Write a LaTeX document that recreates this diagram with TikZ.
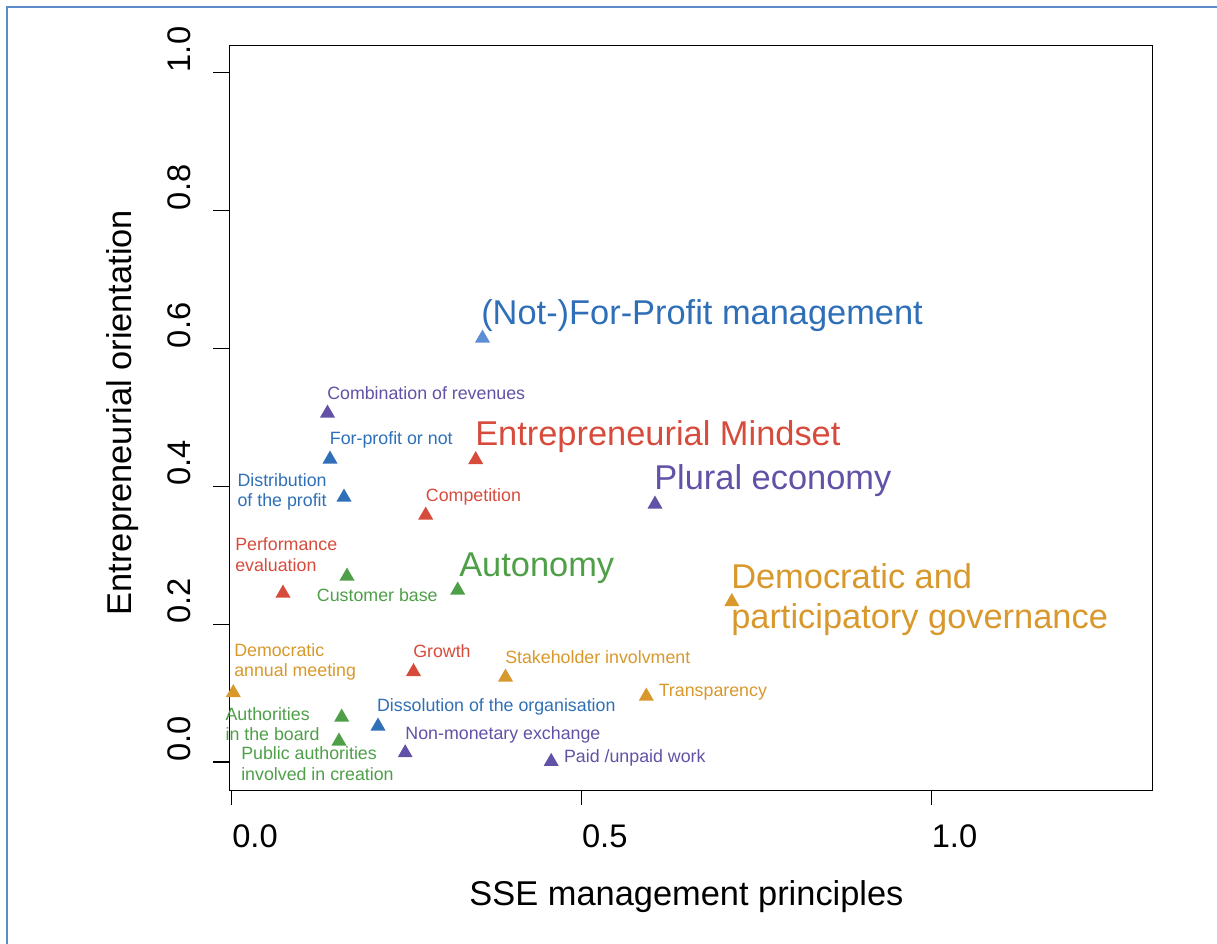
\documentclass[tikz,border=0pt]{standalone}
\usepackage{fontspec}
\setmainfont{Liberation Sans}
\usetikzlibrary{shapes.geometric}
\definecolor{frameblue}{HTML}{5B8BC8}
\definecolor{cblue}{HTML}{2F6FB7}
\definecolor{clblue}{HTML}{5B8ED6}
\definecolor{cred}{HTML}{D64B3C}
\definecolor{cpurp}{HTML}{6251A6}
\definecolor{cgreen}{HTML}{4E9F48}
\definecolor{corange}{HTML}{D8982B}
\begin{document}
\begin{tikzpicture}[x=0.75pt,y=-0.75pt,
  tri/.style={regular polygon, regular polygon sides=3, fill=#1, draw=none, inner sep=0pt, minimum size=13pt},
  small/.style={anchor=base west, inner sep=0pt, text=#1, font=\fontsize{13.35}{16}\selectfont},
  big/.style={anchor=base west, inner sep=0pt, text=#1, font=\fontsize{25.8}{30}\selectfont},
  ticklab/.style={inner sep=0pt, font=\fontsize{24.5}{28}\selectfont},
  axtitle/.style={inner sep=0pt, anchor=base, font=\fontsize{25.8}{30}\selectfont},
  tickline/.style={line width=0.9pt}]
\useasboundingbox (0,0) rectangle (1217,943);
% outer frame
\draw[frameblue, line width=2pt] (7,950) -- (7,7) -- (1225,7);
% plot box
\draw[line width=1pt] (229.6,45.7) rectangle (1152.5,790.5);
% x ticks
\foreach \xv/\lab in {231.7/0.0, 581.5/0.5, 931.2/1.0}{
  \draw[tickline] (\xv,790.5) -- (\xv,805);
  \node[ticklab, anchor=west] (xt-\lab) at (\xv+0.3,836) {\lab};
}
% y ticks
\foreach \yv/\lab in {762/0.0, 624.1/0.2, 486.2/0.4, 348.3/0.6, 210.4/0.8, 72.5/1.0}{
  \draw[tickline] (213,\yv) -- (229.6,\yv);
  \node[ticklab, anchor=west, rotate=90] (yt-\lab) at (179,\yv) {\lab};
}
% axis titles
\node[axtitle] (xtitle) at (686.5,905.7) {SSE management principles};
\node[axtitle, rotate=90] (ytitle) at (131.7,412.5) {Entrepreneurial orientation};

% triangles
\node[tri=cpurp]   (t-comb)    at (327.5,413.2) {};
\node[tri=cblue]   (t-forprof) at (330,459.2) {};
\node[tri=cred]    (t-em)      at (475.7,459.7) {};
\node[tri=cblue]   (t-distr)   at (344,497.2) {};
\node[tri=cred]    (t-compet)  at (425.7,515.2) {};
\node[tri=cred]    (t-perf)    at (283,593.2) {};
\node[tri=cgreen]  (t-cust)    at (347,576.2) {};
\node[tri=cgreen]  (t-auton)   at (457.7,590.2) {};
\node[tri=clblue]  (t-nfp)     at (482.5,338.2) {};
\node[tri=cpurp]   (t-plural)  at (655,504.2) {};
\node[tri=corange] (t-demmeet) at (233.3,692.7) {};
\node[tri=cred]    (t-growth)  at (413.5,671.7) {};
\node[tri=corange] (t-stake)   at (505.5,677.2) {};
\node[tri=corange] (t-transp)  at (646.3,696.2) {};
\node[tri=cgreen]  (t-authb)   at (341.7,717.2) {};
\node[tri=cgreen]  (t-pubauth) at (339,741.2) {};
\node[tri=cblue]   (t-dissol)  at (378,726.2) {};
\node[tri=cpurp]   (t-nonmon)  at (405.2,752.9) {};
\node[tri=cpurp]   (t-paid)    at (551.2,761.5) {};
\node[tri=corange] (t-dpg)     at (731.8,601.7) {};

% small labels
\node[small=cpurp]   (l-comb)     at (327,399.3) {Combination of revenues};
\node[small=cblue]   (l-forprof)  at (329.7,444) {For-profit or not};
\node[small=cred]    (l-compet)   at (425.7,501.7) {Competition};
\node[small=cblue]   (l-distr1)   at (237.3,486) {Distribution};
\node[small=cblue]   (l-distr2)   at (237.3,506.7) {of the profit};
\node[small=cred]    (l-perf1)    at (235,550.5) {Performance};
\node[small=cred]    (l-perf2)    at (235,571) {evaluation};
\node[small=cgreen]  (l-cust)     at (316.7,601) {Customer base};
\node[small=corange] (l-demmeet1) at (234,656) {Democratic};
\node[small=corange] (l-demmeet2) at (234,676.7) {annual meeting};
\node[small=cred]    (l-growth)   at (413,657.7) {Growth};
\node[small=corange] (l-stake)    at (505,663.3) {Stakeholder involvment};
\node[small=corange] (l-transp)   at (658.5,696.7) {Transparency};
\node[small=cgreen]  (l-authb1)   at (225.3,720) {Authorities};
\node[small=cgreen]  (l-authb2)   at (225.3,740.7) {in the board};
\node[small=cgreen]  (l-pubauth1) at (241,759.3) {Public authorities};
\node[small=cgreen]  (l-pubauth2) at (241,780) {involved in creation};
\node[small=cblue]   (l-dissol)   at (376.8,711.7) {Dissolution of the organisation};
\node[small=cpurp]   (l-nonmon)   at (405.2,739.3) {Non-monetary exchange};
\node[small=cpurp]   (l-paid)     at (563.8,762.7) {Paid /unpaid work};

% big labels
\node[big=cblue]   (l-nfp)    at (481,324) {(Not-)For-Profit management};
\node[big=cred]    (l-em)     at (475,445.7) {Entrepreneurial Mindset};
\node[big=cpurp]   (l-plural) at (654,489.3) {Plural economy};
\node[big=cgreen]  (l-auton)  at (459,576.7) {Autonomy};
\node[big=corange] (l-dpg1)   at (731,588.3) {Democratic and};
\node[big=corange] (l-dpg2)   at (731,628.3) {participatory governance};
\end{tikzpicture}
\end{document}
